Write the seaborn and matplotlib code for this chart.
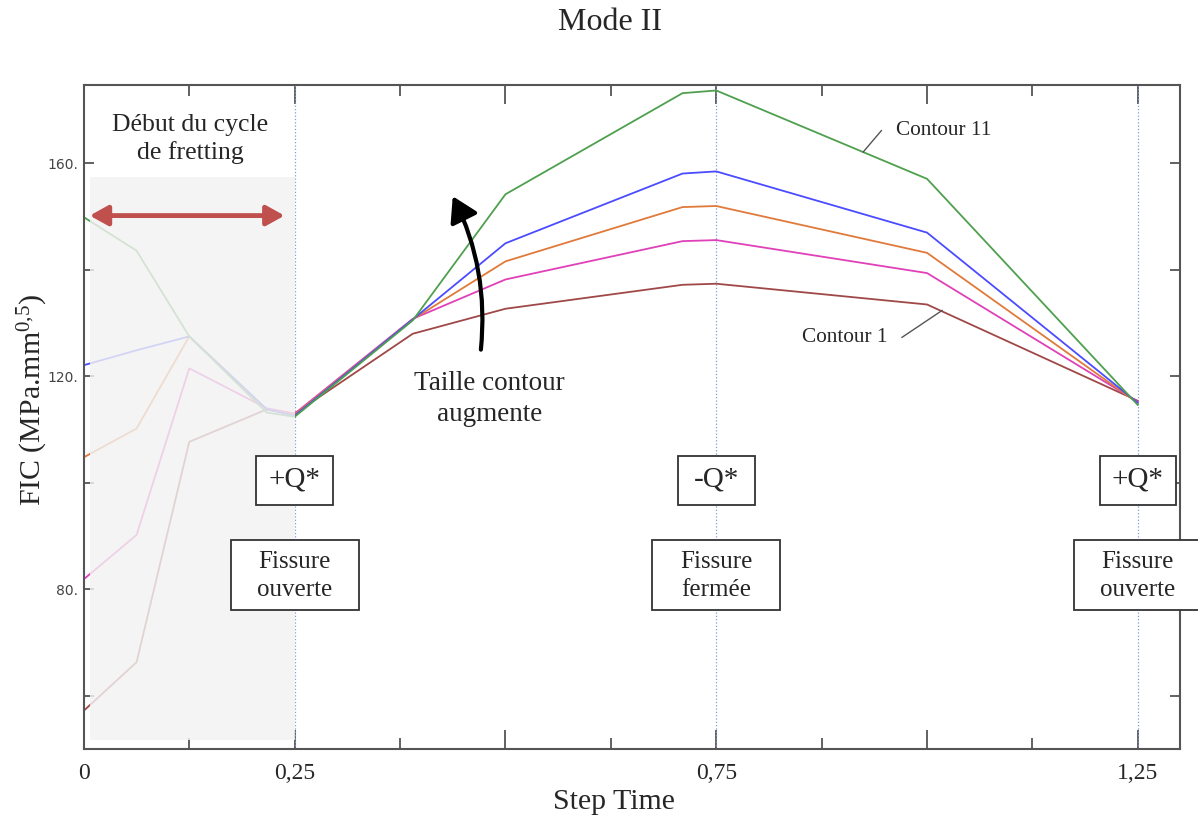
import matplotlib
matplotlib.use("Agg")
import numpy as np
import pandas as pd
import matplotlib.pyplot as plt
import seaborn as sns
from matplotlib.patches import Rectangle, FancyArrowPatch
from matplotlib.ticker import FixedLocator, FixedFormatter

# Données (Step Time / FIC en MPa.mm^0,5)
step_time = [0, 0.0625, 0.125, 0.217, 0.25, 0.39, 0.5, 0.71, 0.75, 1.0, 1.25]

contour_1 = [57.2, 66.3, 107.7, 113.8, 113.0, 128.0, 132.7, 137.2, 137.4, 133.5, 115.4]
contour_b = [81.9, 90.2, 121.5, 114.0, 113.0, 130.8, 138.2, 145.4, 145.6, 139.4, 115.2]
contour_c = [104.8, 110.2, 127.5, 113.8, 112.8, 130.7, 141.6, 151.8, 152.0, 143.2, 115.0]
contour_d = [122.1, 124.9, 127.5, 113.8, 112.6, 130.7, 145.0, 158.1, 158.5, 147.0, 115.0]
contour_11 = [149.9, 143.6, 127.5, 113.2, 112.4, 130.5, 154.2, 173.2, 173.7, 157.1, 114.6]

contour_names = ["Contour 1", "Contour b", "Contour c", "Contour d", "Contour 11"]
contour_colors = ["#a04848", "#e040b8", "#e07a3a", "#4b4bff", "#4ea04e"]

x_tick_pos = [0, 0.25, 0.5, 0.75, 1.0, 1.25]
x_tick_labels = ["0", "0,25", "", "0,75", "", "1,25"]
y_tick_pos = [60, 80, 100, 120, 140, 160]
y_tick_labels = ["", "80.", "", "120.", "", "160."]

# Encadrés : position en x, charge, état de la fissure
box_x = [0.25, 0.75, 1.25]
box_charge = ["+Q*", "-Q*", "+Q*"]
box_etat = ["Fissure\nouverte", "Fissure\nfermée", "Fissure\nouverte"]

# Tableau long pour seaborn
df = pd.concat([
    pd.DataFrame({"step_time": step_time, "fic": vals, "contour": name})
    for name, vals in zip(contour_names, [contour_1, contour_b, contour_c, contour_d, contour_11])
])

sns.set_theme(style="ticks")
plt.rcParams["font.family"] = ["Liberation Serif", "DejaVu Serif"]
plt.rcParams["mathtext.fontset"] = "custom"
plt.rcParams["mathtext.rm"] = "Liberation Serif"
plt.rcParams["mathtext.it"] = "Liberation Serif:italic"

fig = plt.figure(figsize=(11.98, 8.19), dpi=100)
ax = fig.add_axes([0.070, 0.0855, 0.915, 0.8105])

sns.lineplot(data=df, x="step_time", y="fic", hue="contour", palette=contour_colors,
             hue_order=contour_names, estimator=None, sort=False, linewidth=1.3,
             legend=False, ax=ax)

ax.set_xlim(0, 1.30)
ax.set_ylim(50, 174.7)

# Zone grisée "début du cycle"
ax.add_patch(Rectangle((0.007, 51.7), 0.243, 105.8, facecolor="#f2f2f2",
                       alpha=0.82, edgecolor="none", zorder=3))

# Lignes verticales pointillées
for xv in box_x:
    ax.axvline(xv, color="#7a9fd6", linestyle=":", linewidth=0.9, zorder=1)

# Double flèche rouge
ax.annotate("", xy=(0.007, 150.2), xytext=(0.238, 150.2),
            arrowprops=dict(arrowstyle="<|-|>,head_length=0.9,head_width=0.5",
                            color="#c0504d", lw=3.5, shrinkA=0, shrinkB=0), zorder=5)
ax.text(0.126, 164.6, "Début du cycle\nde fretting", ha="center", va="center",
        fontsize=18.5, linespacing=1.3, zorder=6)

# Flèche courbe "taille contour augmente"
arrow = FancyArrowPatch((0.4705, 124.5), (0.436, 154.3), connectionstyle="arc3,rad=0.15",
                        arrowstyle="-|>,head_length=10,head_width=6", color="black",
                        lw=3, mutation_scale=1.5, zorder=6)
ax.add_patch(arrow)
ax.text(0.481, 115.8, "Taille contour\naugmente", ha="center", va="center",
        fontsize=19.5, linespacing=1.3, zorder=6)

# Étiquettes des contours avec traits de rappel
ax.plot([0.924, 0.946], [162.1, 166.2], color="#555555", lw=1, zorder=4)
ax.text(0.963, 166.2, "Contour 11", ha="left", va="center", fontsize=15.3)
ax.plot([0.970, 1.018], [127.3, 132.4], color="#555555", lw=1, zorder=4)
ax.text(0.852, 127.3, "Contour 1", ha="left", va="center", fontsize=15.3)

# Encadrés
for xv, q, etat in zip(box_x, box_charge, box_etat):
    ax.add_patch(Rectangle((xv - 0.0455, 100.5 - 4.6), 0.091, 9.2, facecolor="white",
                           edgecolor="#333333", linewidth=1.3, zorder=7, clip_on=False))
    ax.text(xv, 100.7, q, ha="center", va="center", fontsize=21, zorder=8, clip_on=False)
    ax.add_patch(Rectangle((xv - 0.076, 82.7 - 6.55), 0.152, 13.1, facecolor="white",
                           edgecolor="#333333", linewidth=1.3, zorder=7, clip_on=False))
    ax.text(xv, 82.5, etat, ha="center", va="center", fontsize=18, linespacing=1.35,
            zorder=8, clip_on=False)

# Axes et graduations
ax.xaxis.set_major_locator(FixedLocator(x_tick_pos))
ax.xaxis.set_major_formatter(FixedFormatter(x_tick_labels))
ax.xaxis.set_minor_locator(FixedLocator([0.125, 0.375, 0.625, 0.875, 1.125]))
ax.yaxis.set_major_locator(FixedLocator(y_tick_pos))
ax.yaxis.set_major_formatter(FixedFormatter(y_tick_labels))

ax.tick_params(axis="x", which="major", direction="in", length=14, width=1.3,
               color="#555555", top=True, labelsize=17, pad=10)
ax.tick_params(axis="x", which="minor", direction="in", length=8, width=1.3,
               color="#555555", top=True)
ax.tick_params(axis="y", which="major", direction="in", length=7, width=1.3,
               color="#555555", right=True, labelsize=10, labelcolor="#444444", pad=4)
for lab in ax.get_yticklabels():
    lab.set_family("DejaVu Sans")

for side in ax.spines.values():
    side.set_color("#555555")
    side.set_linewidth(1.5)

ax.set_xlabel("Step Time", fontsize=21.5)
ax.xaxis.set_label_coords(0.484, -0.060)
ax.set_ylabel("FIC (MPa.mm$^{0{,}5}$)", fontsize=21.5)
ax.yaxis.set_label_coords(-0.031, 0.526)

fig.text(0.509, 0.972, "Mode II", ha="center", va="center", fontsize=23)

fig.savefig("out.png", dpi=100)
